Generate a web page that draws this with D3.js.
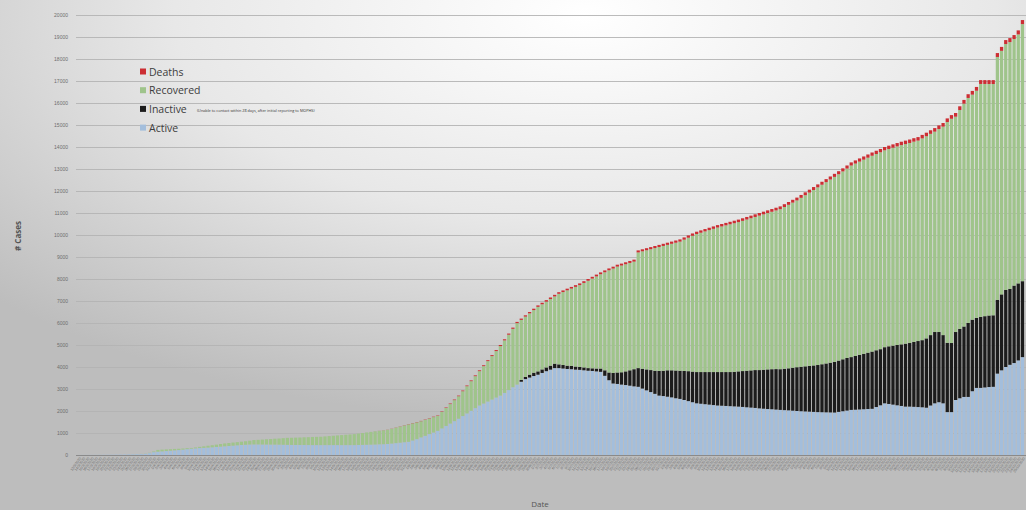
<!DOCTYPE html>
<html lang="en">
<head>
<meta charset="UTF-8">
<title>Cases by status</title>
<style>
    body { margin: 0; background: #c4c4c4; }
    svg { display: block; font-family: "Open Sans", "Liberation Sans", sans-serif; }
    .tick text { fill: #6e6e6e; }
</style>
</head>
<body>
<div id="chart"></div>
<script src="https://d3js.org/d3.v7.min.js"></script>
<script>
// values, one per day (227 days)
const active = [
    2, 3, 4, 5, 6, 8, 10, 12, 14, 17, 20, 24, 27, 31, 37, 43, 52, 85, 130, 150,
    165, 180, 195, 210, 225, 245, 265, 285, 300, 315, 325, 335, 350, 365, 380, 395, 410, 425, 440, 455,
    465, 475, 480, 480, 478, 476, 474, 472, 470, 465, 460, 458, 456, 455, 454, 452, 450, 450, 450, 450,
    450, 450, 450, 450, 450, 450, 450, 455, 460, 465, 470, 475, 485, 490, 500, 520, 540, 560, 580, 600,
    660, 720, 800, 870, 950, 1020, 1100, 1210, 1320, 1430, 1540, 1650, 1770, 1890, 2010, 2130, 2250, 2340, 2430, 2520,
    2610, 2700, 2820, 2950, 3080, 3200, 3330, 3450, 3520, 3590, 3650, 3730, 3810, 3880, 3950, 3950, 3930, 3910, 3900, 3880,
    3870, 3850, 3830, 3820, 3800, 3780, 3600, 3400, 3250, 3230, 3200, 3180, 3150, 3120, 3100, 3020, 2940, 2860, 2780, 2700,
    2680, 2650, 2620, 2580, 2550, 2500, 2450, 2400, 2350, 2330, 2310, 2290, 2270, 2250, 2240, 2230, 2220, 2210, 2200, 2185,
    2170, 2155, 2140, 2120, 2105, 2090, 2080, 2065, 2050, 2040, 2030, 2015, 2000, 1990, 1980, 1970, 1960, 1950, 1945, 1940,
    1935, 1930, 1960, 1990, 2020, 2050, 2060, 2070, 2080, 2090, 2100, 2180, 2260, 2350, 2320, 2290, 2260, 2230, 2200, 2200,
    2190, 2180, 2170, 2150, 2250, 2350, 2400, 2350, 1950, 1950, 2500, 2580, 2640, 2640, 2900, 3050, 3050, 3070, 3090, 3100,
    3700, 3850, 4000, 4100, 4180, 4300, 4450
];
const inactive = [
    0, 0, 0, 0, 0, 0, 0, 0, 0, 0, 0, 0, 0, 0, 0, 0, 0, 0, 0, 0,
    0, 0, 0, 0, 0, 0, 0, 0, 0, 0, 0, 0, 0, 0, 0, 0, 0, 0, 0, 0,
    0, 0, 0, 0, 0, 0, 0, 0, 0, 0, 0, 0, 0, 0, 0, 0, 0, 0, 0, 0,
    0, 0, 0, 0, 0, 0, 0, 0, 0, 0, 0, 0, 0, 0, 0, 0, 0, 0, 0, 0,
    0, 0, 0, 0, 0, 0, 0, 0, 0, 0, 0, 0, 0, 0, 0, 0, 0, 0, 0, 0,
    0, 0, 0, 0, 0, 0, 80, 100, 130, 150, 150, 160, 170, 180, 200, 170, 160, 150, 150, 140,
    130, 130, 120, 120, 130, 150, 250, 350, 480, 520, 560, 620, 700, 780, 850, 900, 950, 1000, 1050, 1120,
    1150, 1200, 1230, 1260, 1280, 1320, 1360, 1390, 1420, 1440, 1460, 1480, 1500, 1520, 1530, 1540, 1550, 1570, 1600, 1630,
    1660, 1690, 1720, 1740, 1770, 1800, 1820, 1840, 1850, 1880, 1910, 1950, 1990, 2020, 2050, 2080, 2110, 2140, 2180, 2220,
    2260, 2300, 2330, 2360, 2390, 2400, 2440, 2480, 2520, 2560, 2600, 2580, 2550, 2550, 2620, 2680, 2740, 2800, 2860, 2890,
    2950, 3000, 3050, 3150, 3200, 3240, 3190, 3100, 3150, 3140, 3090, 3150, 3200, 3360, 3250, 3180, 3230, 3240, 3250, 3250,
    3350, 3450, 3500, 3450, 3520, 3500, 3450
];
const recovered = [
    0, 0, 0, 0, 0, 0, 0, 0, 0, 0, 0, 0, 1, 2, 3, 5, 8, 15, 30, 80,
    80, 75, 70, 65, 60, 50, 45, 35, 45, 55, 70, 85, 95, 105, 120, 130, 135, 140, 145, 150,
    160, 175, 200, 210, 222, 239, 251, 268, 280, 300, 320, 327, 334, 340, 351, 358, 370, 375, 380, 395,
    410, 425, 440, 455, 470, 485, 500, 520, 540, 560, 580, 598, 612, 631, 645, 674, 703, 732, 761, 790,
    779, 768, 737, 726, 705, 704, 682, 750, 818, 886, 954, 1022, 1130, 1238, 1346, 1454, 1562, 1700, 1838, 1976,
    2114, 2252, 2390, 2518, 2656, 2794, 2732, 2740, 2788, 2846, 2934, 2962, 2990, 3029, 3058, 3207, 3316, 3425, 3514, 3623,
    3722, 3841, 3970, 4079, 4188, 4287, 4456, 4645, 4744, 4813, 4852, 4871, 4880, 4889, 5258, 5337, 5416, 5495, 5574, 5633,
    5672, 5701, 5750, 5809, 5868, 5967, 6066, 6175, 6274, 6333, 6392, 6451, 6510, 6569, 6618, 6667, 6716, 6755, 6784, 6828,
    6872, 6916, 6960, 7019, 7063, 7107, 7156, 7210, 7274, 7353, 7432, 7506, 7580, 7679, 7778, 7877, 7976, 8075, 8159, 8243,
    8327, 8411, 8470, 8539, 8608, 8707, 8746, 8785, 8824, 8863, 8902, 8921, 8950, 8949, 8968, 8997, 9026, 9055, 9074, 9093,
    9102, 9111, 9170, 9189, 9148, 9107, 9226, 9475, 10034, 10193, 9787, 9951, 10130, 10229, 10228, 10327, 10586, 10555, 10524, 10513,
    11042, 11071, 11180, 11219, 11206, 11317, 11686
];
const deaths = [
    0, 0, 0, 0, 0, 0, 0, 0, 0, 0, 0, 0, 0, 0, 0, 0, 0, 0, 0, 0,
    0, 0, 0, 0, 0, 0, 0, 0, 0, 0, 0, 0, 0, 0, 0, 0, 0, 0, 0, 0,
    0, 0, 0, 0, 0, 0, 0, 0, 0, 0, 0, 0, 0, 0, 0, 0, 0, 0, 0, 0,
    0, 0, 0, 0, 0, 0, 0, 0, 0, 0, 0, 2, 3, 4, 5, 6, 7, 8, 9, 10,
    11, 12, 13, 14, 15, 16, 18, 20, 22, 24, 26, 28, 30, 32, 34, 36, 38, 40, 42, 44,
    46, 48, 50, 52, 54, 56, 58, 60, 62, 64, 66, 68, 70, 71, 72, 73, 74, 75, 76, 77,
    78, 79, 80, 81, 82, 83, 84, 85, 86, 87, 88, 89, 90, 91, 92, 93, 94, 95, 96, 97,
    98, 99, 100, 101, 102, 103, 104, 105, 106, 107, 108, 109, 110, 111, 112, 113, 114, 115, 116, 117,
    118, 119, 120, 121, 122, 123, 124, 125, 126, 127, 128, 129, 130, 131, 132, 133, 134, 135, 136, 137,
    138, 139, 140, 141, 142, 143, 144, 145, 146, 147, 148, 149, 150, 151, 152, 153, 154, 155, 156, 157,
    158, 159, 160, 161, 162, 163, 164, 165, 166, 167, 168, 169, 170, 171, 172, 173, 174, 175, 176, 177,
    178, 179, 180, 181, 182, 183, 184
];

// one date per bar
const startDate = new Date(2020, 2, 13);
const dates = d3.timeDay.range(startDate, d3.timeDay.offset(startDate, active.length));
const fmt = d3.timeFormat("%-d/%-m/%Y");
const dateLabels = dates.map(d => fmt(d));

const keys = ["active", "inactive", "recovered", "deaths"];
const colors = { active: "#a3bedc", inactive: "#1c1c1c", recovered: "#9fc48b", deaths: "#cc2e33" };
const legendItems = [
    { key: "deaths", label: "Deaths" },
    { key: "recovered", label: "Recovered" },
    { key: "inactive", label: "Inactive", note: "(Unable to contact within 28 days, after initial reporting to MOPHS)" },
    { key: "active", label: "Active" }
];
const yTicks = d3.range(0, 20001, 1000);

const rows = dateLabels.map((label, i) => ({
    date: label,
    active: active[i],
    inactive: inactive[i],
    recovered: recovered[i],
    deaths: deaths[i]
}));

const W = 1026, H = 510;
const margin = { top: 15, right: 1, bottom: 55, left: 76 };
const width = W - margin.left - margin.right;
const height = H - margin.top - margin.bottom;

const svg = d3.select("#chart").append("svg")
    .attr("width", W)
    .attr("height", H);

const defs = svg.append("defs");
const grad = defs.append("radialGradient")
    .attr("id", "bg")
    .attr("cx", 0.57).attr("cy", 0.03).attr("r", 0.8);
grad.append("stop").attr("offset", "0%").attr("stop-color", "#ffffff");
grad.append("stop").attr("offset", "50%").attr("stop-color", "#e8e8e8");
grad.append("stop").attr("offset", "100%").attr("stop-color", "#bdbdbd");

svg.append("rect")
    .attr("width", W).attr("height", H)
    .attr("fill", "url(#bg)");

const g = svg.append("g")
    .attr("transform", `translate(${margin.left},${margin.top})`);

const x = d3.scaleBand()
    .domain(dateLabels)
    .range([0, width])
    .padding(0.22);

const y = d3.scaleLinear()
    .domain([0, 20000])
    .range([height, 0]);

// grid
g.append("g")
    .selectAll("line")
    .data(yTicks)
    .join("line")
    .attr("x1", 0)
    .attr("x2", width + 1)
    .attr("y1", d => y(d) + 0.5)
    .attr("y2", d => y(d) + 0.5)
    .attr("stroke", "#b3b3b3")
    .attr("stroke-width", 0.9);

// stacked bars
const series = d3.stack().keys(keys)(rows);

g.append("g")
    .selectAll("g")
    .data(series)
    .join("g")
    .attr("fill", d => colors[d.key])
    .selectAll("rect")
    .data(d => d)
    .join("rect")
    .attr("x", d => x(d.data.date))
    .attr("y", d => y(d[1]))
    .attr("width", x.bandwidth())
    .attr("height", d => Math.max(0, y(d[0]) - y(d[1])));

// baseline
g.append("line")
    .attr("x1", 0).attr("x2", width + 1)
    .attr("y1", height + 0.5).attr("y2", height + 0.5)
    .attr("stroke", "#8a8a8a")
    .attr("stroke-width", 1);

// y axis
const yAxis = g.append("g")
    .call(d3.axisLeft(y).tickValues(yTicks).tickFormat(d3.format("d")).tickSize(0).tickPadding(8));
yAxis.select(".domain").remove();
yAxis.selectAll("text").style("font-size", "5px");

// x axis with tiny slanted date labels
const xAxis = g.append("g")
    .attr("transform", `translate(0,${height})`)
    .call(d3.axisBottom(x).tickSize(0).tickPadding(2));
xAxis.select(".domain").remove();
xAxis.selectAll("text")
    .style("font-size", "3.6px")
    .attr("fill", "#8a8a8a")
    .attr("text-anchor", "end")
    .attr("dx", "-0.3em")
    .attr("dy", "0.6em")
    .attr("transform", "rotate(-55)");

// axis titles
svg.append("text")
    .attr("transform", "translate(21,236) rotate(-90)")
    .attr("text-anchor", "middle")
    .style("font-size", "8px")
    .style("font-weight", "bold")
    .attr("fill", "#555")
    .text("# Cases");

svg.append("text")
    .attr("x", 540)
    .attr("y", 507)
    .attr("text-anchor", "middle")
    .style("font-size", "8px")
    .attr("fill", "#555")
    .text("Date");

// legend
const legend = svg.append("g")
    .attr("transform", "translate(140,72)");

const li = legend.selectAll("g")
    .data(legendItems)
    .join("g")
    .attr("transform", (d, i) => `translate(0,${i * 18.7})`);

li.append("rect")
    .attr("x", 0).attr("y", -3.5)
    .attr("width", 6).attr("height", 6)
    .attr("fill", d => colors[d.key]);

li.append("text")
    .attr("x", 9)
    .attr("y", 0)
    .attr("dy", "0.35em")
    .style("font-size", "10.5px")
    .attr("fill", "#3c3c3c")
    .text(d => d.label);

li.filter(d => d.note)
    .append("text")
    .attr("x", 57)
    .attr("y", 1)
    .attr("dy", "0.35em")
    .style("font-size", "3.8px")
    .attr("fill", "#333")
    .text(d => d.note);
</script>
</body>
</html>
